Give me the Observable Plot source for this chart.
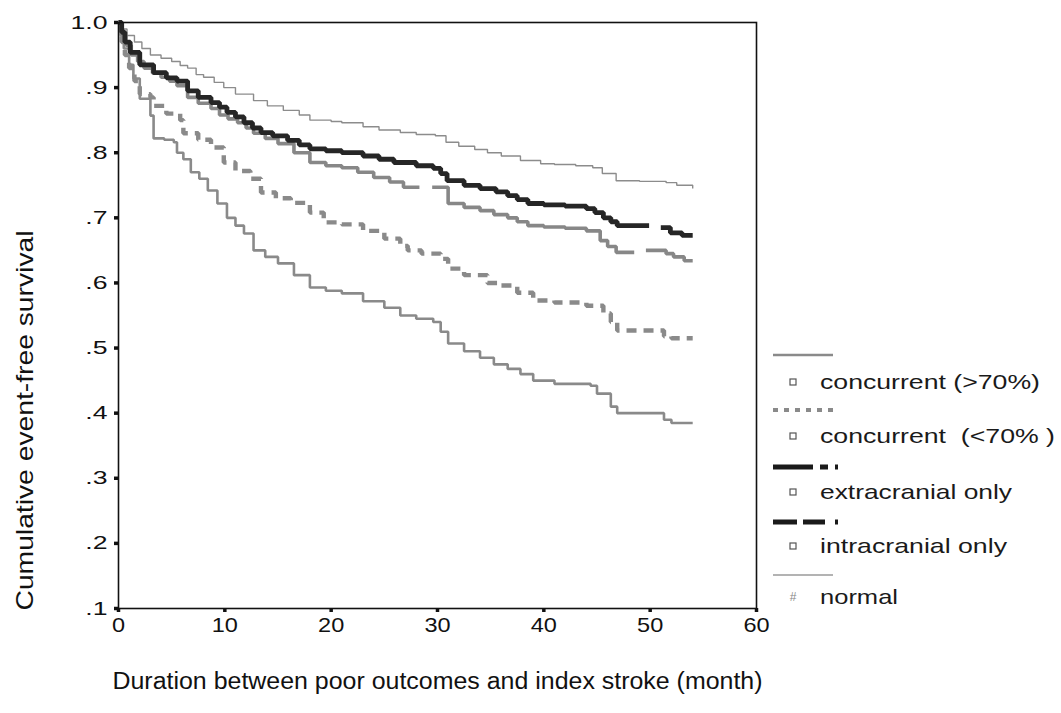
<!DOCTYPE html>
<html>
<head>
<meta charset="utf-8">
<script src="https://cdn.jsdelivr.net/npm/d3@7"></script>
<script src="https://cdn.jsdelivr.net/npm/@observablehq/plot@0.6"></script>
<style>
  html, body { margin: 0; padding: 0; background: #fff; }
  #wrap { position: relative; width: 1061px; height: 713px; }
  #legend { position: absolute; left: 770px; top: 340px; }
  text { white-space: pre; }
</style>
</head>
<body>
<div id="wrap"><div id="chart"></div><div id="legend"></div></div>
<script>
// ---- data ----
const xTicks = [0, 10, 20, 30, 40, 50, 60];
const yTicks = [0.1, 0.2, 0.3, 0.4, 0.5, 0.6, 0.7, 0.8, 0.9, 1.0];
const xTitle = "Duration between poor outcomes and index stroke (month)";
const yTitle = "Cumulative event-free survival";
const seriesNames = ["concurrent (>70%)", "concurrent  (<70% )", "extracranial only", "intracranial only", "normal"];

const normalMonths = [0,0.3,0.8,1.5,2.2,3,4,5,5.8,6.5,7.3,8,9,9.9,11,12.7,14,15.5,17,18,20,21,23,24.5,26.5,28,29.8,30.8,32,33.5,34.7,36,37.8,39.7,41,43,44.6,45.5,46.8,49,51.5,52.5,54];
const normalSurv   = [1,0.99,0.98,0.97,0.96,0.95,0.945,0.94,0.934,0.93,0.92,0.916,0.908,0.90,0.89,0.88,0.872,0.865,0.858,0.85,0.848,0.846,0.84,0.835,0.831,0.828,0.826,0.816,0.81,0.805,0.80,0.795,0.788,0.783,0.782,0.78,0.777,0.768,0.757,0.756,0.754,0.75,0.745];

const extraMonths = [0,0.3,0.6,1.1,2,3.3,4.5,5.5,6.5,7.5,8.7,9.5,10.2,11,11.8,12.6,13.4,14.5,15.9,17,18,19.5,21,23,24.5,25.9,28,29.6,30.3,30.9,32.5,34,35.5,36.6,37.5,38.5,40,42,44,44.8,45.6,46.3,46.9,49.9,49.95,51,51.9,53,54];
const extraSurv   = [1,0.985,0.97,0.954,0.935,0.923,0.915,0.91,0.895,0.885,0.877,0.87,0.862,0.855,0.846,0.838,0.831,0.826,0.819,0.812,0.806,0.803,0.80,0.795,0.79,0.785,0.78,0.776,0.768,0.757,0.75,0.745,0.74,0.734,0.728,0.722,0.72,0.718,0.714,0.708,0.70,0.694,0.688,0.688,null,0.685,0.677,0.673,0.673];

const intraMonths = [0,0.3,0.7,1.2,1.8,2.4,3.2,4,4.8,5.5,6.5,7.5,8.7,9.5,10.3,11.2,12,12.7,13.8,15,16.5,18,19.5,21,22.5,24,25.5,26.8,28.3,28.5,29.5,31,32.5,34,35.3,36.6,37.5,38.5,40,42,44,45.3,46,46.8,48.5,48.7,49.6,51.5,52.2,53.2,54];
const intraSurv   = [1,0.98,0.965,0.95,0.94,0.93,0.922,0.916,0.91,0.903,0.885,0.876,0.868,0.858,0.852,0.846,0.838,0.83,0.822,0.814,0.80,0.785,0.78,0.777,0.77,0.762,0.755,0.747,0.747,null,0.747,0.722,0.716,0.711,0.705,0.70,0.694,0.688,0.686,0.684,0.68,0.665,0.656,0.647,0.647,null,0.65,0.645,0.64,0.634,0.634];

const c70loMonths = [0,0.3,0.6,1,1.5,2,3,3.3,4.5,5.8,6.1,7.5,8.7,9.9,11,12.4,13.4,14.8,16.2,18,19.3,21,23,25,26.5,27.2,28.5,30.3,31,32.5,34.7,36,37.5,39,41,44,45.6,46.3,46.9,49,51.3,52,54];
const c70loSurv   = [1,0.97,0.95,0.93,0.91,0.89,0.885,0.872,0.86,0.85,0.83,0.82,0.808,0.785,0.772,0.76,0.739,0.73,0.723,0.708,0.693,0.69,0.68,0.668,0.657,0.65,0.645,0.637,0.622,0.612,0.60,0.596,0.585,0.573,0.57,0.565,0.553,0.54,0.527,0.527,0.518,0.515,0.515];

const c70hiMonths = [0,0.2,0.5,1,1.4,2,3,3.3,4.3,5.2,5.5,6.1,6.8,7.6,8.4,9.3,10.2,11,11.8,12.7,13.8,15,16.5,18,19.5,21,23,25,26.5,28,29.6,30.3,31,32.5,34,35.3,36.6,37.8,39,41,44.4,45,46.3,46.9,49,51.3,52,54];
const c70hiSurv   = [1,0.98,0.96,0.935,0.914,0.883,0.857,0.822,0.82,0.816,0.80,0.79,0.77,0.76,0.742,0.722,0.70,0.688,0.676,0.65,0.64,0.63,0.612,0.593,0.588,0.584,0.572,0.562,0.55,0.545,0.54,0.525,0.507,0.495,0.485,0.475,0.468,0.46,0.45,0.445,0.442,0.43,0.41,0.40,0.40,0.39,0.385,0.385];

const toRows = (ms, ss) => ms.map((m, i) => ({m, s: ss[i]}));
const yFmt = d => d === 1 ? "1.0" : d3.format(".1f")(d).replace(/^0/, "");

const font = "'Liberation Sans', Arial, sans-serif";
const lineOpts = {x: "m", y: "s", curve: "step-after", strokeLinejoin: "miter", strokeLinecap: "butt"};

const chart = Plot.plot({
  width: 1061,
  height: 713,
  marginLeft: 118,
  marginRight: 305,
  marginTop: 22,
  marginBottom: 105,
  style: {fontFamily: font, background: "#fff", color: "#111", overflow: "visible"},
  x: {domain: [0, 60]},
  y: {domain: [0.1, 1.0]},
  marks: [
    Plot.line(toRows(c70hiMonths, c70hiSurv), {...lineOpts, stroke: "#8a8a8a", strokeWidth: 2.6}),
    Plot.line(toRows(c70loMonths, c70loSurv), {...lineOpts, stroke: "#8a8a8a", strokeWidth: 4.4, strokeDasharray: "10,7"}),
    Plot.line(toRows(intraMonths, intraSurv), {...lineOpts, stroke: "#878787", strokeWidth: 3.6}),
    Plot.line(toRows(normalMonths, normalSurv), {...lineOpts, stroke: "#8c8c8c", strokeWidth: 1.4}),
    Plot.line(toRows(extraMonths, extraSurv), {...lineOpts, stroke: "#262626", strokeWidth: 4.8}),
    Plot.frame({stroke: "#111", strokeWidth: 1.6}),
    Plot.axisY({ticks: yTicks, tickFormat: yFmt, tickSize: 4, tickPadding: 7, strokeWidth: 3.5, fontSize: 19, label: null, className: "yax"}),
    Plot.axisX({ticks: xTicks, tickSize: 4, tickPadding: 5, strokeWidth: 3.5, fontSize: 21, label: null, className: "xax"}),
    Plot.text([xTitle], {frameAnchor: "bottom", dy: 80, fontSize: 23, fill: "#111", className: "xtitle"}),
    Plot.text([yTitle], {frameAnchor: "left", textAnchor: "middle", dx: -93, dy: 105, rotate: -90, fontSize: 24, fill: "#111", className: "ytitle"})
  ]
});
document.getElementById("chart").appendChild(chart);
d3.select(chart).selectAll(".xtitle text").attr("textLength", 650).attr("lengthAdjust", "spacingAndGlyphs");
d3.select(chart).selectAll(".ytitle text").attr("textLength", 380).attr("lengthAdjust", "spacingAndGlyphs");
// the reference's tick labels are horizontally stretched
d3.select(chart).selectAll(".yax text").each(function() {
  const w = this.getComputedTextLength();
  d3.select(this).attr("textLength", w * 1.4).attr("lengthAdjust", "spacingAndGlyphs");
});
d3.select(chart).selectAll(".xax text").each(function() {
  const w = this.getComputedTextLength();
  d3.select(this).attr("textLength", w * 1.12).attr("lengthAdjust", "spacingAndGlyphs");
});

// ---- legend ----
const legendStyles = [
  {stroke: "#8a8a8a", width: 2.6, dash: null, x2: 63},
  {stroke: "#8a8a8a", width: 4, dash: "5,6", x2: 68},
  {stroke: "#1a1a1a", width: 5, dash: "40,7,8,7,3,10", x2: 68},
  {stroke: "#1a1a1a", width: 5, dash: "24,6,22,10,3,10", x2: 68},
  {stroke: "#9a9a9a", width: 1.5, dash: null, x2: 63}
];
const textLens = [220, 235, 192, 187, 78];
const lineYs = [15, 70, 127, 182, 235];
const textYs = [43, 97, 153, 207, 258];
const lsvg = d3.select("#legend").append("svg").attr("width", 291).attr("height", 280)
  .style("font-family", font);
seriesNames.forEach((name, i) => {
  const st = legendStyles[i];
  const ln = lsvg.append("line").attr("x1", 3).attr("x2", st.x2).attr("y1", lineYs[i]).attr("y2", lineYs[i])
    .attr("stroke", st.stroke).attr("stroke-width", st.width);
  if (st.dash) ln.attr("stroke-dasharray", st.dash);
  if (i < 4) {
    lsvg.append("rect").attr("x", 20).attr("y", textYs[i] - 4).attr("width", 6).attr("height", 6)
      .attr("fill", "none").attr("stroke", "#555").attr("stroke-width", 1.2);
  } else {
    lsvg.append("text").attr("x", 23).attr("y", textYs[i]).attr("text-anchor", "middle").attr("dominant-baseline", "middle")
      .attr("font-size", 12).attr("fill", "#888").text("#");
  }
  lsvg.append("text").attr("x", 50).attr("y", textYs[i]).attr("dominant-baseline", "middle")
    .attr("font-size", 21).attr("fill", "#1a1a1a")
    .attr("textLength", textLens[i]).attr("lengthAdjust", "spacingAndGlyphs")
    .style("white-space", "pre").text(name);
});
</script>
</body>
</html>
